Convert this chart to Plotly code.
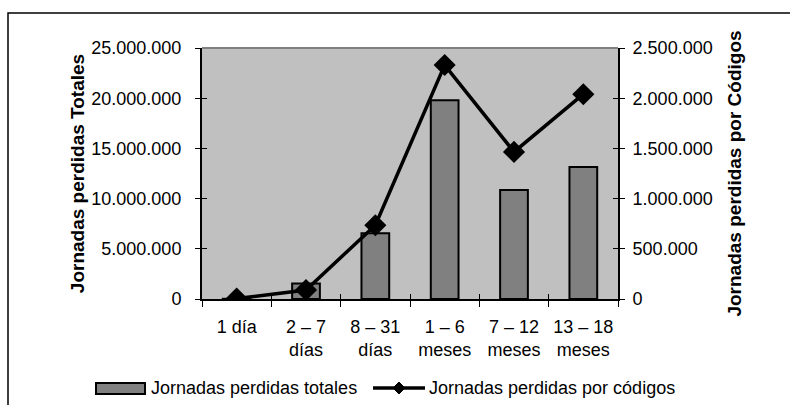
import plotly.graph_objects as go

categories = ["1 día", "2 – 7<br>días", "8 – 31<br>días", "1 – 6<br>meses", "7 – 12<br>meses", "13 – 18<br>meses"]
totales = [20000, 1550000, 6550000, 19800000, 10850000, 13150000]
codigos = [4000, 90000, 735000, 2330000, 1465000, 2040000]
left_ticks = [0, 5000000, 10000000, 15000000, 20000000, 25000000]
right_ticks = [0, 500000, 1000000, 1500000, 2000000, 2500000]
legend_labels = ["Jornadas perdidas totales", "Jornadas perdidas por códigos"]

FONT = "Arial, Liberation Sans, sans-serif"
n = len(categories)

# plot-area geometry in pixels (for converting page positions to paper units)
L, R, T, B = 202, 618, 48, 299
def px(x):
    return (x - L) / (R - L)
def py(y):
    return (B - y) / (B - T)

fig = go.Figure()
fig.add_trace(go.Bar(
    x=categories, y=totales, name=legend_labels[0],
    marker=dict(color="#808080", line=dict(color="#000000", width=2)),
    yaxis="y",
))
fig.add_trace(go.Scatter(
    x=categories, y=codigos, name=legend_labels[1],
    mode="lines+markers", line=dict(color="#000000", width=3.5),
    marker=dict(symbol="diamond", size=17, color="#000000"),
    yaxis="y2",
))
# empty helper traces so the inside-tick overlay axes get drawn
fig.add_trace(go.Scatter(x=[None], y=[None], xaxis="x2", yaxis="y3", showlegend=False, hoverinfo="skip"))
fig.add_trace(go.Scatter(x=[None], y=[None], xaxis="x", yaxis="y4", showlegend=False, hoverinfo="skip"))

axfont = dict(family=FONT, size=18, color="#000000")
titlefont = dict(family=FONT, size=19, color="#000000", weight="bold")

# legend drawn by hand (wide bar swatch, line swatch with small diamond)
ly = 388
dx, dy = 6, 6
dcx = 399
shapes = [
    dict(type="line", xref="paper", yref="paper", x0=0, x1=1, y0=1, y1=1,
         line=dict(color="#808080", width=2), layer="above"),
    dict(type="rect", xref="paper", yref="paper",
         x0=px(8), x1=px(820), y0=py(440), y1=py(13),
         line=dict(color="#000000", width=1.5), fillcolor="rgba(0,0,0,0)", layer="below"),
    dict(type="rect", xref="paper", yref="paper",
         x0=px(96), x1=px(145), y0=py(394), y1=py(383),
         line=dict(color="#000000", width=2), fillcolor="#808080"),
    dict(type="line", xref="paper", yref="paper",
         x0=px(373), x1=px(425), y0=py(ly), y1=py(ly),
         line=dict(color="#000000", width=3.5)),
    dict(type="path", xref="paper", yref="paper",
         path=f"M {px(dcx-dx)},{py(ly)} L {px(dcx)},{py(ly-dy)} L {px(dcx+dx)},{py(ly)} L {px(dcx)},{py(ly+dy)} Z",
         line=dict(color="#000000", width=1), fillcolor="#000000"),
]
annotations = [
    dict(text=legend_labels[0], xref="paper", yref="paper", x=px(149), y=py(ly),
         xanchor="left", yanchor="middle", showarrow=False,
         font=dict(family=FONT, size=18, color="#000000")),
    dict(text=legend_labels[1], xref="paper", yref="paper", x=px(427), y=py(ly),
         xanchor="left", yanchor="middle", showarrow=False,
         font=dict(family=FONT, size=18, color="#000000")),
]

fig.update_layout(
    width=790, height=405,
    margin=dict(l=L, r=790 - R, t=T, b=405 - B),
    paper_bgcolor="#ffffff", plot_bgcolor="#c0c0c0",
    separators=",.",
    bargap=0.6,
    showlegend=False,
    xaxis=dict(type="category", categoryarray=categories, tickson="boundaries",
               ticks="outside", ticklen=6, tickwidth=1, tickcolor="#000000",
               showline=True, linecolor="#000000", linewidth=2, showgrid=False,
               tickfont=axfont, anchor="y", automargin=False, ticklabelstandoff=10),
    xaxis2=dict(overlaying="x", range=[-0.5, n - 0.5], anchor="y",
                tickvals=[i + 0.5 for i in range(n - 1)], ticks="inside", ticklen=5,
                tickcolor="#000000", showticklabels=False, showgrid=False,
                showline=False, zeroline=False, automargin=False),
    yaxis=dict(range=[0, left_ticks[-1]], tickvals=left_ticks, tickformat=",d",
               ticks="outside", ticklen=5, tickcolor="#000000",
               showline=True, linecolor="#000000", linewidth=2, showgrid=False,
               zeroline=False, tickfont=axfont, automargin=False, ticklabelstandoff=10,
               title=dict(text="Jornadas perdidas Totales", font=titlefont, standoff=2)),
    yaxis2=dict(range=[0, right_ticks[-1]], tickvals=right_ticks, tickformat=",d",
                overlaying="y", side="right", anchor="x",
                ticks="outside", ticklen=5, tickcolor="#000000",
                showline=True, linecolor="#000000", linewidth=2, showgrid=False,
                zeroline=False, tickfont=axfont, automargin=False, ticklabelstandoff=4,
                title=dict(text="Jornadas perdidas por Códigos", font=titlefont, standoff=16)),
    yaxis3=dict(range=[0, left_ticks[-1]], tickvals=left_ticks, overlaying="y", anchor="x",
                side="left", ticks="inside", ticklen=5, tickcolor="#000000",
                showticklabels=False, showgrid=False, showline=False, zeroline=False,
                automargin=False),
    yaxis4=dict(range=[0, right_ticks[-1]], tickvals=right_ticks, overlaying="y", anchor="x",
                side="right", ticks="inside", ticklen=5, tickcolor="#000000",
                showticklabels=False, showgrid=False, showline=False, zeroline=False,
                automargin=False),
    shapes=shapes,
    annotations=annotations,
)

fig.write_html("out.html")
